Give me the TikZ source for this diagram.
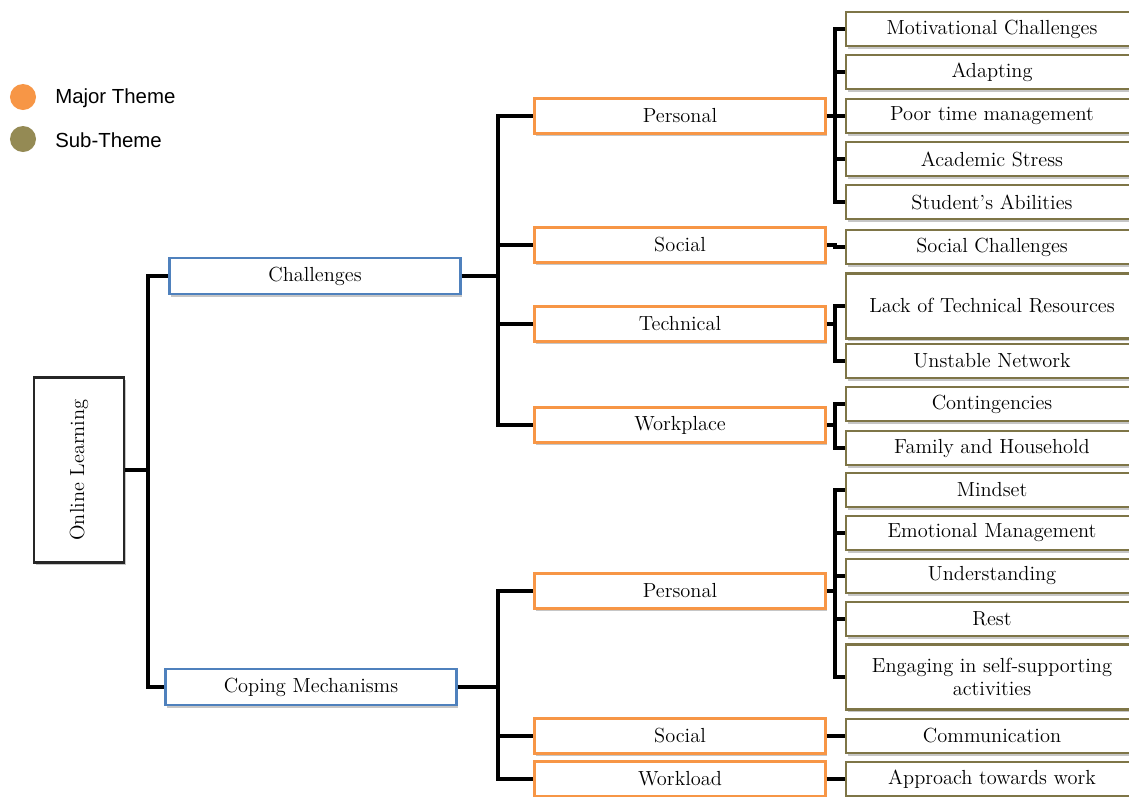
\documentclass[tikz,border=0pt]{standalone}
\usepackage{fontspec}
\newfontfamily\legendfont{Liberation Sans}
\usepackage{tikz}
\usetikzlibrary{positioning,shadows}
\definecolor{majorc}{HTML}{F79646}
\definecolor{subc}{HTML}{948A54}
\definecolor{topc}{HTML}{4F81BD}

\begin{document}
\begin{tikzpicture}[x=0.025cm, y=-0.025cm, font=\fontsize{14.5}{16.5}\selectfont,
  box/.style={draw, fill=white, inner sep=0pt, align=center,
    drop shadow={shadow xshift=1.2pt, shadow yshift=-1.8pt, opacity=0.45}},
  rootbox/.style={box, draw=black!85, line width=1.6pt, minimum width=2.25cm, minimum height=4.625cm},
  topbox/.style={box, draw=topc, line width=1.6pt, minimum width=7.275cm, minimum height=0.9cm},
  majbox/.style={box, draw=majorc, line width=1.6pt, minimum width=7.275cm, minimum height=0.875cm},
  subbox/.style={box, draw=subc!85!black, line width=1.6pt, minimum width=7.3cm, minimum height=0.86cm},
  tallbox/.style={subbox, minimum height=1.625cm},
  dot/.style={circle, inner sep=0pt, minimum size=0.65cm},
  link/.style={line width=3pt}]
  \useasboundingbox (0,0) rectangle (1129,796);

  % legend
  \node[dot, fill=majorc] (dmaj) at (23,97) {};
  \node[dot, fill=subc] (dsub) at (23,139) {};
  \node[anchor=west, inner sep=0pt, font=\legendfont\fontsize{14.5}{16}\selectfont] (lmaj) at (55,98) {Major Theme};
  \node[anchor=west, inner sep=0pt, font=\legendfont\fontsize{14.5}{16}\selectfont] (lsub) at (55,140) {Sub-Theme};

  \node[rootbox] (ol) at (79,470) {\rotatebox{90}{Online Learning}};
  \node[topbox] (ch) at (315,276) {Challenges};
  \node[topbox] (cm) at (311,687) {Coping Mechanisms};

  \node[majbox] (cpers) at (680,116) {Personal};
  \node[majbox] (csoc) at (680,245) {Social};
  \node[majbox] (ctech) at (680,324) {Technical};
  \node[majbox] (cwork) at (680,425) {Workplace};
  \node[majbox] (mpers) at (680,591) {Personal};
  \node[majbox] (msoc) at (680,736) {Social};
  \node[majbox] (mwork) at (680,779) {Workload};

  \node[subbox] (motiv) at (992,29) {Motivational Challenges};
  \node[subbox] (adapt) at (992,72) {Adapting};
  \node[subbox] (ptime) at (992,116) {Poor time management};
  \node[subbox] (stress) at (992,159) {Academic Stress};
  \node[subbox] (abil) at (992,202) {Student's Abilities};
  \node[subbox] (socch) at (992,247) {Social Challenges};
  \node[tallbox] (lackres) at (992,306) {Lack of Technical Resources};
  \node[subbox] (netw) at (992,361) {Unstable Network};
  \node[subbox] (conting) at (992,404) {Contingencies};
  \node[subbox] (family) at (992,448) {Family and Household};
  \node[subbox] (mind) at (992,490) {Mindset};
  \node[subbox] (emot) at (992,533) {Emotional Management};
  \node[subbox] (under) at (992,576) {Understanding};
  \node[subbox] (rest) at (992,619) {Rest};
  \node[tallbox] (engage) at (992,677) {Engaging in self-supporting\\activities};
  \node[subbox] (commu) at (992,736) {Communication};
  \node[subbox] (approach) at (992,779) {Approach towards work};

  \draw[link] (ol.east) -- ++(23,0) coordinate (jroot);
  \foreach \n in {ch,cm} \draw[link] (jroot) |- (\n.west);
  \draw[link] (ch.east) -- ++(36,0) coordinate (jch);
  \foreach \n in {cpers,csoc,ctech,cwork} \draw[link] (jch) |- (\n.west);
  \draw[link] (cm.east) -- ++(40,0) coordinate (jcm);
  \foreach \n in {mpers,msoc,mwork} \draw[link] (jcm) |- (\n.west);

  \draw[link] (cpers.east) -- ++(8,0) coordinate (jcp);
  \foreach \n in {motiv,adapt,ptime,stress,abil} \draw[link] (jcp) |- (\n.west);
  \draw[link] (csoc.east) -- ++(8,0) |- (socch.west);
  \draw[link] (ctech.east) -- ++(8,0) coordinate (jct);
  \foreach \n in {lackres,netw} \draw[link] (jct) |- (\n.west);
  \draw[link] (cwork.east) -- ++(8,0) coordinate (jcw);
  \foreach \n in {conting,family} \draw[link] (jcw) |- (\n.west);
  \draw[link] (mpers.east) -- ++(8,0) coordinate (jmp);
  \foreach \n in {mind,emot,under,rest,engage} \draw[link] (jmp) |- (\n.west);
  \draw[link] (msoc) -- (commu);
  \draw[link] (mwork) -- (approach);
\end{tikzpicture}
\end{document}
